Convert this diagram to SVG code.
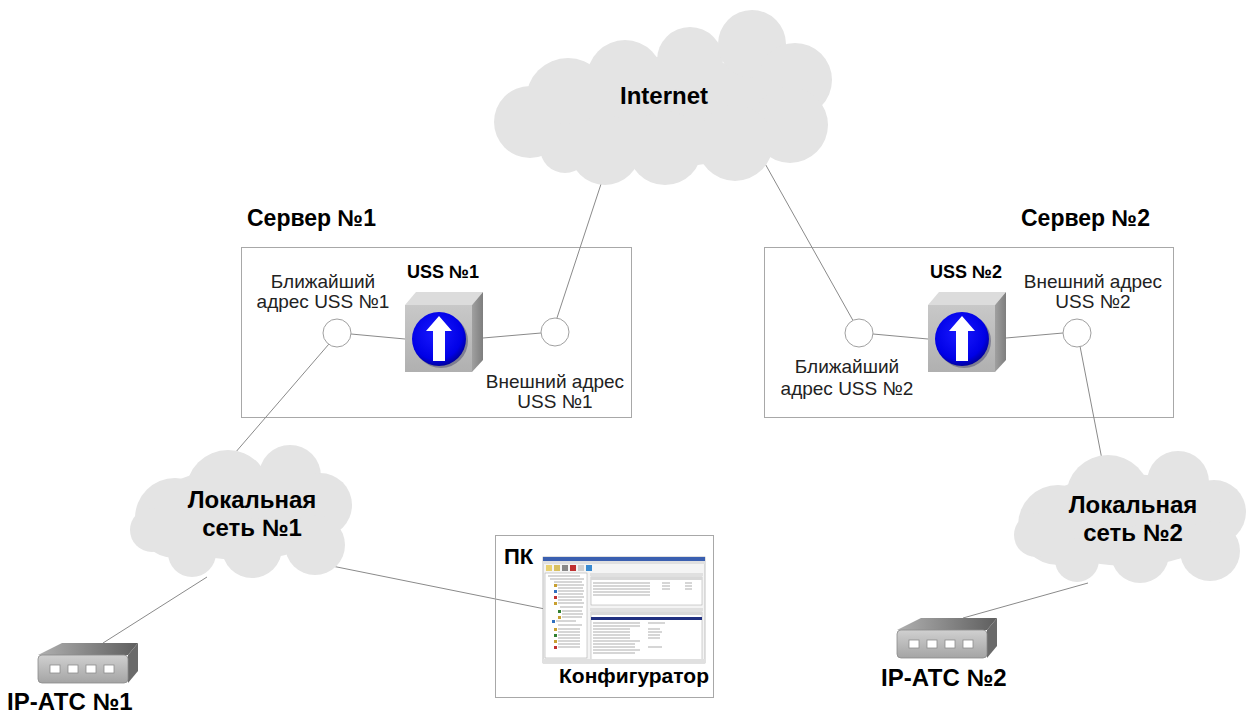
<svg xmlns="http://www.w3.org/2000/svg" width="1247" height="713" viewBox="0 0 1247 713">
  <defs>
    <style>
      .link { stroke: #8a8a8a; stroke-width: 1; fill: none; }
      .cloud { fill: #e4e4e4; }
      .frame { fill: none; stroke: #a8a8a8; stroke-width: 1; }
      .port { fill: #ffffff; stroke: #8c8c8c; stroke-width: 0.8; }
      .t { font-family: "Liberation Sans", Arial, sans-serif; fill: #000000; }
      .b { font-weight: bold; }
      .mid { text-anchor: middle; }
      .lbl { font-size: 19px; fill: #222222; }
    </style>
    <linearGradient id="cubeFront" x1="0" y1="0" x2="0" y2="1">
      <stop offset="0" stop-color="#c8c8c8"/>
      <stop offset="1" stop-color="#b0b0b0"/>
    </linearGradient>
    <linearGradient id="cubeSide" x1="0" y1="0" x2="1" y2="0">
      <stop offset="0" stop-color="#a0a0a0"/>
      <stop offset="1" stop-color="#7e7e7e"/>
    </linearGradient>
    <radialGradient id="ball" cx="0.45" cy="0.4" r="0.6">
      <stop offset="0" stop-color="#1a1aff"/>
      <stop offset="0.8" stop-color="#0000e6"/>
      <stop offset="1" stop-color="#0000a0"/>
    </radialGradient>
    <linearGradient id="devFront" x1="0" y1="0" x2="0" y2="1">
      <stop offset="0" stop-color="#d0d0d0"/>
      <stop offset="1" stop-color="#a4a4a4"/>
    </linearGradient>
    <linearGradient id="devTop" x1="0" y1="0" x2="1" y2="0">
      <stop offset="0" stop-color="#b0b0b0"/>
      <stop offset="1" stop-color="#5e5e5e"/>
    </linearGradient>

    <!-- USS server cube with blue "up" button -->
    <g id="cube">
      <polygon points="0,13 11,0 78,0 67,13" fill="#dcdcdc"/>
      <polygon points="67,13 78,0 78,68 67,80" fill="url(#cubeSide)"/>
      <rect x="0" y="13" width="67" height="67" fill="url(#cubeFront)"/>
      <circle cx="36" cy="49" r="27" fill="#5a5a7a" opacity="0.6"/>
      <circle cx="34" cy="47" r="27" fill="url(#ball)"/>
      <polygon points="34,24 47,39 40,39 40,69 28,69 28,39 21,39" fill="#ffffff"/>
    </g>

    <!-- IP-PBX box with four ports -->
    <g id="device">
      <polygon points="0,12 24,0 100,0 90,12" fill="url(#devTop)"/>
      <polygon points="90,12 100,0 100,28 90,40" fill="#6a6a6a"/>
      <rect x="0" y="12" width="90" height="28" rx="4" fill="url(#devFront)" stroke="#8a8a8a" stroke-width="0.8"/>
      <rect class="port" x="12" y="22" width="10" height="8"/>
      <rect class="port" x="30" y="22" width="10" height="8"/>
      <rect class="port" x="48" y="22" width="10" height="8"/>
      <rect class="port" x="66" y="22" width="10" height="8"/>
    </g>
  </defs>

  <rect width="1247" height="713" fill="#ffffff"/>

  <!-- server frames -->
  <g id="server1">
    <rect class="frame" x="241.5" y="247.5" width="390" height="170"/>
    <text class="t b" x="247" y="226" font-size="23">Сервер №1</text>
  </g>
  <g id="server2">
    <rect class="frame" x="764.5" y="247.5" width="409" height="170"/>
    <text class="t b" x="1021" y="226" font-size="23">Сервер №2</text>
  </g>

  <!-- connectors -->
  <g id="connectors">
    <line class="link" x1="603" y1="178" x2="553" y2="330"/>
    <line class="link" x1="763" y1="160" x2="860" y2="333"/>
    <line class="link" x1="351" y1="334" x2="405" y2="339"/>
    <line class="link" x1="483" y1="338" x2="541" y2="333"/>
    <line class="link" x1="873" y1="334" x2="928" y2="339"/>
    <line class="link" x1="1006" y1="338" x2="1063" y2="333"/>
    <line class="link" x1="335" y1="337" x2="222" y2="468"/>
    <line class="link" x1="1079" y1="341" x2="1105" y2="475"/>
    <line class="link" x1="327" y1="565" x2="545" y2="609"/>
    <line class="link" x1="207" y1="577" x2="103" y2="643"/>
    <line class="link" x1="1088" y1="583" x2="963" y2="618"/>
  </g>

  <!-- Internet cloud -->
  <g id="internet">
    <g class="cloud">
      <ellipse cx="662" cy="112" rx="135" ry="55"/>
      <circle cx="530" cy="122" r="36"/>
      <circle cx="568" cy="100" r="42"/>
      <circle cx="625" cy="78" r="38"/>
      <circle cx="690" cy="60" r="33"/>
      <circle cx="752" cy="44" r="34"/>
      <circle cx="795" cy="80" r="37"/>
      <circle cx="790" cy="125" r="38"/>
      <circle cx="735" cy="143" r="38"/>
      <circle cx="665" cy="148" r="37"/>
      <circle cx="605" cy="150" r="35"/>
      <circle cx="565" cy="148" r="25"/>
    </g>
    <text class="t b mid" x="664" y="104" font-size="24">Internet</text>
  </g>

  <!-- address points -->
  <g id="uss1-near">
    <circle cx="337" cy="333" r="14" fill="#ffffff" stroke="#a0a0a0"/>
    <text class="t lbl mid" x="323" y="288">Ближайший</text>
    <text class="t lbl mid" x="323" y="308">адрес USS №1</text>
  </g>
  <g id="uss1-ext">
    <circle cx="555" cy="332" r="14" fill="#ffffff" stroke="#a0a0a0"/>
    <text class="t lbl mid" x="555" y="388">Внешний адрес</text>
    <text class="t lbl mid" x="555" y="408">USS №1</text>
  </g>
  <g id="uss2-near">
    <circle cx="859" cy="333" r="14" fill="#ffffff" stroke="#a0a0a0"/>
    <text class="t lbl mid" x="847" y="373">Ближайший</text>
    <text class="t lbl mid" x="847" y="395">адрес USS №2</text>
  </g>
  <g id="uss2-ext">
    <circle cx="1077" cy="333" r="14" fill="#ffffff" stroke="#a0a0a0"/>
    <text class="t lbl mid" x="1093" y="288">Внешний адрес</text>
    <text class="t lbl mid" x="1093" y="308">USS №2</text>
  </g>

  <!-- USS nodes -->
  <g id="uss1">
    <use href="#cube" transform="translate(405,292)"/>
    <text class="t b mid" x="443" y="278" font-size="18">USS №1</text>
  </g>
  <g id="uss2">
    <use href="#cube" transform="translate(928,292)"/>
    <text class="t b mid" x="966" y="278" font-size="18">USS №2</text>
  </g>

  <!-- local networks -->
  <g id="lan1">
    <g class="cloud">
      <ellipse cx="242" cy="514" rx="95" ry="46"/>
      <circle cx="175" cy="518" r="40"/>
      <circle cx="152" cy="530" r="22"/>
      <circle cx="228" cy="492" r="42"/>
      <circle cx="290" cy="476" r="31"/>
      <circle cx="320" cy="505" r="32"/>
      <circle cx="315" cy="545" r="30"/>
      <circle cx="252" cy="548" r="30"/>
      <circle cx="192" cy="553" r="24"/>
    </g>
    <text class="t b mid" x="252" y="508" font-size="24">Локальная</text>
    <text class="t b mid" x="252" y="536" font-size="24">сеть №1</text>
  </g>
  <g id="lan2">
    <g class="cloud">
      <ellipse cx="1128" cy="520" rx="95" ry="46"/>
      <circle cx="1058" cy="525" r="40"/>
      <circle cx="1036" cy="535" r="22"/>
      <circle cx="1108" cy="497" r="42"/>
      <circle cx="1178" cy="482" r="31"/>
      <circle cx="1214" cy="512" r="32"/>
      <circle cx="1210" cy="551" r="30"/>
      <circle cx="1140" cy="554" r="29"/>
      <circle cx="1077" cy="560" r="22"/>
    </g>
    <text class="t b mid" x="1133" y="513" font-size="24">Локальная</text>
    <text class="t b mid" x="1133" y="541" font-size="24">сеть №2</text>
  </g>

  <!-- PC with configurator window -->
  <g id="pc">
    <rect class="frame" x="495.5" y="535.5" width="218" height="162"/>
    <text class="t b" x="504" y="564" font-size="22">ПК</text>
    <g id="screen">
      <rect x="543" y="557" width="162" height="106" fill="#f4f4f4" stroke="#9a9a9a" stroke-width="0.6"/>
      <rect x="543" y="557" width="162" height="4" fill="#3a5fb0"/>
      <rect x="543" y="561" width="162" height="3" fill="#e0e0e0"/>
      <rect x="546" y="565" width="6" height="6" fill="#e8d070"/>
      <rect x="554" y="565" width="6" height="6" fill="#d8c060"/>
      <rect x="562" y="565" width="6" height="6" fill="#888888"/>
      <rect x="570" y="565" width="6" height="6" fill="#c03030"/>
      <rect x="578" y="565" width="6" height="6" fill="#d0d0d0"/>
      <rect x="586" y="565" width="6" height="6" fill="#3a8ad0"/>
      <!-- tree pane -->
      <rect x="545" y="573" width="42" height="85" fill="#ffffff" stroke="#a0a0a0" stroke-width="0.5"/>
      <g stroke="#8a8a8a" stroke-width="0.7">
        <line x1="548" y1="576" x2="580" y2="576"/>
        <line x1="550" y1="579" x2="584" y2="579"/>
        <line x1="554" y1="582" x2="582" y2="582"/>
        <line x1="556" y1="585" x2="584" y2="585"/>
        <line x1="558" y1="588" x2="583" y2="588"/>
        <line x1="558" y1="591" x2="584" y2="591"/>
        <line x1="558" y1="594" x2="583" y2="594"/>
        <line x1="558" y1="597" x2="584" y2="597"/>
        <line x1="558" y1="600" x2="582" y2="600"/>
        <line x1="558" y1="603" x2="584" y2="603"/>
        <line x1="560" y1="607" x2="583" y2="607"/>
        <line x1="562" y1="611" x2="582" y2="611"/>
        <line x1="562" y1="614" x2="583" y2="614"/>
        <line x1="562" y1="617" x2="582" y2="617"/>
        <line x1="556" y1="621" x2="576" y2="621"/>
        <line x1="558" y1="625" x2="582" y2="625"/>
        <line x1="558" y1="629" x2="580" y2="629"/>
        <line x1="558" y1="632" x2="580" y2="632"/>
        <line x1="558" y1="635" x2="580" y2="635"/>
        <line x1="558" y1="638" x2="580" y2="638"/>
        <line x1="558" y1="641" x2="580" y2="641"/>
        <line x1="558" y1="644" x2="580" y2="644"/>
        <line x1="558" y1="647" x2="580" y2="647"/>
      </g>
      <g fill="#c8a030">
        <rect x="554" y="584" width="3" height="3"/>
        <rect x="554" y="590" width="3" height="3" fill="#3070c0"/>
        <rect x="554" y="596" width="3" height="3" fill="#c03030"/>
        <rect x="554" y="602" width="3" height="3"/>
        <rect x="558" y="610" width="3" height="3" fill="#308030"/>
        <rect x="558" y="616" width="3" height="3"/>
        <rect x="552" y="620" width="3" height="3" fill="#3070c0"/>
        <rect x="554" y="628" width="3" height="3"/>
        <rect x="554" y="634" width="3" height="3" fill="#308030"/>
        <rect x="554" y="640" width="3" height="3"/>
        <rect x="554" y="646" width="3" height="3" fill="#c03030"/>
      </g>
      <!-- upper table -->
      <rect x="590" y="573" width="113" height="3" fill="#e0e0e0"/>
      <rect x="591" y="577" width="111" height="28" fill="#ffffff" stroke="#a0a0a0" stroke-width="0.5"/>
      <rect x="591" y="577" width="111" height="3" fill="#d8d8d8"/>
      <g stroke="#8a8a8a" stroke-width="0.7">
        <line x1="593" y1="583" x2="650" y2="583"/>
        <line x1="593" y1="586" x2="650" y2="586"/>
        <line x1="593" y1="589" x2="650" y2="589"/>
        <line x1="593" y1="592" x2="650" y2="592"/>
        <line x1="593" y1="595" x2="650" y2="595"/>
        <line x1="662" y1="583" x2="670" y2="583"/>
        <line x1="662" y1="586" x2="670" y2="586"/>
        <line x1="662" y1="589" x2="670" y2="589"/>
        <line x1="685" y1="583" x2="692" y2="583"/>
        <line x1="685" y1="586" x2="692" y2="586"/>
        <line x1="685" y1="589" x2="692" y2="589"/>
      </g>
      <!-- property table -->
      <rect x="590" y="608" width="113" height="3" fill="#e0e0e0"/>
      <rect x="591" y="612" width="111" height="48" fill="#ffffff" stroke="#a0a0a0" stroke-width="0.5"/>
      <rect x="591" y="612" width="111" height="3" fill="#d8d8d8"/>
      <rect x="591" y="617" width="111" height="3" fill="#203080"/>
      <g stroke="#8a8a8a" stroke-width="0.7">
        <line x1="593" y1="623" x2="640" y2="623"/>
        <line x1="593" y1="626" x2="640" y2="626"/>
        <line x1="593" y1="629" x2="630" y2="629"/>
        <line x1="593" y1="632" x2="630" y2="632"/>
        <line x1="593" y1="635" x2="630" y2="635"/>
        <line x1="593" y1="638" x2="630" y2="638"/>
        <line x1="593" y1="641" x2="640" y2="641"/>
        <line x1="593" y1="644" x2="635" y2="644"/>
        <line x1="593" y1="647" x2="635" y2="647"/>
        <line x1="593" y1="650" x2="640" y2="650"/>
        <line x1="593" y1="653" x2="635" y2="653"/>
        <line x1="648" y1="623" x2="665" y2="623"/>
        <line x1="648" y1="629" x2="660" y2="629"/>
        <line x1="648" y1="632" x2="662" y2="632"/>
        <line x1="648" y1="635" x2="660" y2="635"/>
        <line x1="648" y1="638" x2="660" y2="638"/>
        <line x1="648" y1="647" x2="662" y2="647"/>
      </g>
      <rect x="543" y="659" width="162" height="4" fill="#e0e0e0"/>
    </g>
    <text class="t b mid" x="634" y="683" font-size="21">Конфигуратор</text>
  </g>

  <!-- IP PBX devices -->
  <g id="pbx1">
    <use href="#device" transform="translate(38,643)"/>
    <text class="t b" x="7" y="710" font-size="24">IP-АТС №1</text>
  </g>
  <g id="pbx2">
    <use href="#device" transform="translate(897,618)"/>
    <text class="t b" x="881" y="686" font-size="24">IP-АТС №2</text>
  </g>
</svg>
